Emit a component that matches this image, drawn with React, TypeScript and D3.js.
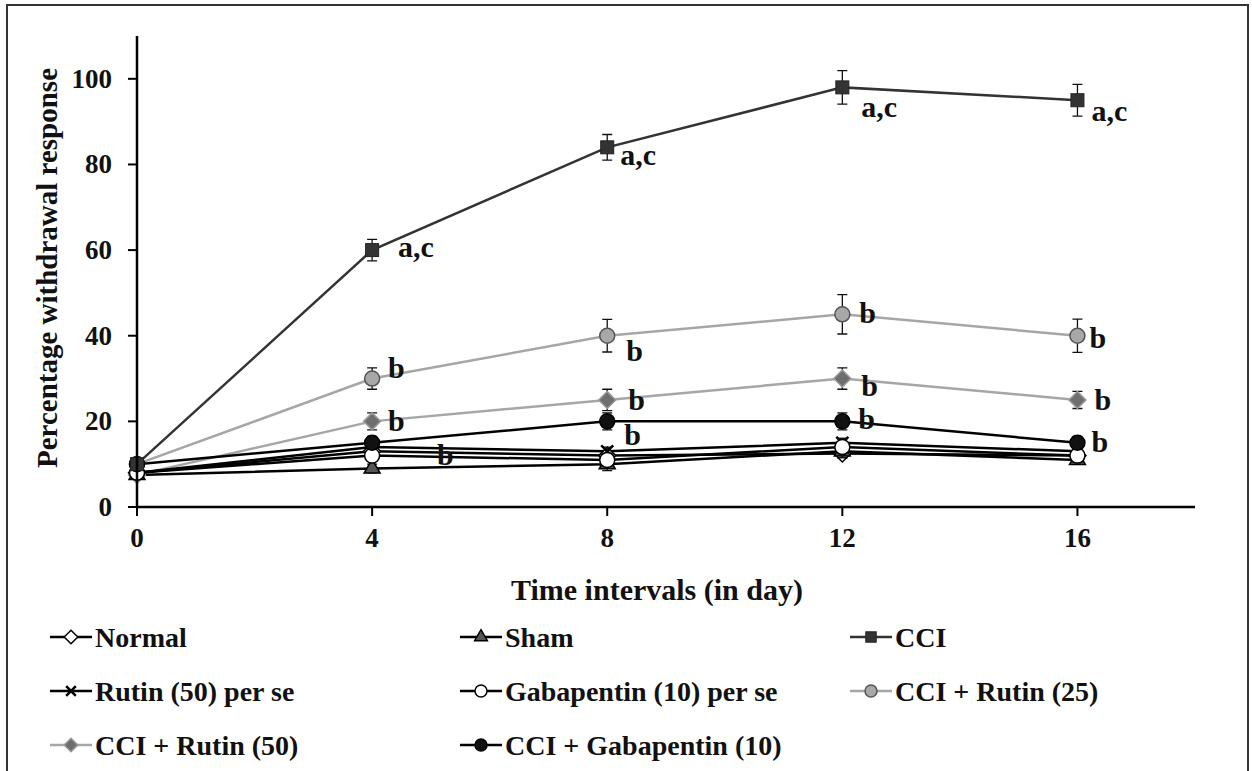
import React, { useEffect, useRef } from 'react';
import * as d3 from 'd3';

const days = [0, 4, 8, 12, 16];
const yTicks = [0, 20, 40, 60, 80, 100];
const xTicks = [0, 4, 8, 12, 16];

const normal = [8, 13, 12, 12.5, 12];
const sham = [7.5, 9, 10, 13, 11];
const cci = [10, 60, 84, 98, 95];
const rutinPerSe = [8, 14, 13, 15, 13];
const gabaPerSe = [8, 12, 11, 14, 12];
const cciRutin25 = [10, 30, 40, 45, 40];
const cciRutin50 = [7.5, 20, 25, 30, 25];
const cciGaba = [10, 15, 20, 20, 15];

const normalErr = [0.8, 1, 1, 1, 1];
const shamErr = [0.8, 1, 1.5, 1.5, 1];
const cciErr = [1, 2.5, 3, 3.9, 3.7];
const rutinPerSeErr = [0.8, 1, 1, 1, 1];
const gabaPerSeErr = [0.8, 1.2, 1.5, 2, 1.5];
const cciRutin25Err = [1, 2.5, 3.8, 4.6, 3.9];
const cciRutin50Err = [1, 2, 2.5, 2.5, 2];
const cciGabaErr = [1, 1.5, 2, 2, 1.5];

const seriesNames = [
  'Normal', 'Sham', 'CCI',
  'Rutin (50) per se', 'Gabapentin (10) per se', 'CCI + Rutin (25)',
  'CCI + Rutin (50)', 'CCI + Gabapentin (10)',
];

// significance labels: series index, point index, text
const annSeries = [2, 2, 2, 2, 5, 5, 5, 5, 6, 6, 6, 6, 7, 7, 7, 7];
const annPoint = [1, 2, 3, 4, 1, 2, 3, 4, 1, 2, 3, 4, 1, 2, 3, 4];
const annText = ['a,c', 'a,c', 'a,c', 'a,c', 'b', 'b', 'b', 'b', 'b', 'b', 'b', 'b', 'b', 'b', 'b', 'b'];
const annDx = [26, 13, 19, 14, 16, 19, 17, 12, 16, 21, 19, 17, 65, 17, 16, 14];
const annDy = [7, 18, 30, 21, -1, 25, 9, 12, 10, 10, 17, 10, 22, 24, 8, 9];

type Style = { line: string; marker: string; fill: string; stroke: string };
const styles: Style[] = [
  { line: '#000', marker: 'diamond', fill: '#fff', stroke: '#000' },
  { line: '#000', marker: 'triangle', fill: '#555', stroke: '#000' },
  { line: '#333', marker: 'square', fill: '#333', stroke: '#222' },
  { line: '#000', marker: 'x', fill: 'none', stroke: '#000' },
  { line: '#000', marker: 'circle', fill: '#fff', stroke: '#000' },
  { line: '#a6a6a6', marker: 'circle', fill: '#a8a8a8', stroke: '#555' },
  { line: '#a6a6a6', marker: 'diamond', fill: '#6e6e6e', stroke: '#999' },
  { line: '#000', marker: 'circle', fill: '#111', stroke: '#000' },
];

const FONT = '"Liberation Serif", "Times New Roman", serif';

const App = () => {
  const svgRef = useRef<SVGSVGElement>(null);

  useEffect(() => {
    const svg = d3.select(svgRef.current);
    svg.selectAll('*').remove();

    const values = [normal, sham, cci, rutinPerSe, gabaPerSe, cciRutin25, cciRutin50, cciGaba];
    const errs = [normalErr, shamErr, cciErr, rutinPerSeErr, gabaPerSeErr, cciRutin25Err, cciRutin50Err, cciGabaErr];

    const x = d3.scaleLinear().domain([0, 18]).range([137, 1195]);
    const y = d3.scaleLinear().domain([0, 110]).range([507, 36]);

    // outer frame
    svg.append('rect')
      .attr('x', 7).attr('y', 5).attr('width', 1241).attr('height', 780)
      .attr('fill', 'white').attr('stroke', '#333').attr('stroke-width', 2);

    const drawMarker = (g: any, kind: string, cx: number, cy: number, st: Style, k = 1) => {
      if (kind === 'circle') {
        g.append('circle').attr('cx', cx).attr('cy', cy).attr('r', 7.5 * k)
          .attr('fill', st.fill).attr('stroke', st.stroke).attr('stroke-width', 1.5);
      } else if (kind === 'x') {
        const s = 6 * k;
        g.append('path').attr('d', `M${cx - s},${cy - s}L${cx + s},${cy + s}M${cx - s},${cy + s}L${cx + s},${cy - s}`)
          .attr('stroke', st.stroke).attr('stroke-width', 2.5);
      } else if (kind === 'diamond') {
        const s = 8.5 * k;
        g.append('path').attr('d', `M${cx},${cy - s}L${cx + s},${cy}L${cx},${cy + s}L${cx - s},${cy}Z`)
          .attr('fill', st.fill).attr('stroke', st.stroke).attr('stroke-width', 1.5);
      } else if (kind === 'square') {
        const s = 6.5 * k;
        g.append('rect').attr('x', cx - s).attr('y', cy - s).attr('width', 2 * s).attr('height', 2 * s)
          .attr('fill', st.fill).attr('stroke', st.stroke).attr('stroke-width', 1);
      } else {
        g.append('path').attr('d', d3.symbol().type(d3.symbolTriangle).size(110 * k * k)())
          .attr('transform', `translate(${cx},${cy})`)
          .attr('fill', st.fill).attr('stroke', st.stroke).attr('stroke-width', 1.5);
      }
    };

    // gray lines behind black ones
    const order = [5, 6, 0, 1, 3, 4, 7, 2];
    const line = d3.line<number>().x((_, i) => x(days[i])).y(d => y(d));
    order.forEach(si => {
      svg.append('path').attr('d', line(values[si]))
        .attr('fill', 'none').attr('stroke', styles[si].line).attr('stroke-width', 2.5);
    });

    // error bars and markers
    order.forEach(si => {
      const g = svg.append('g');
      values[si].forEach((v, i) => {
        const cx = x(days[i]);
        const e = errs[si][i];
        const y1 = y(v + e), y2 = y(v - e);
        g.append('path')
          .attr('d', `M${cx},${y1}V${y2}M${cx - 5},${y1}H${cx + 5}M${cx - 5},${y2}H${cx + 5}`)
          .attr('stroke', '#111').attr('stroke-width', 1.3).attr('fill', 'none');
      });
      values[si].forEach((v, i) => drawMarker(g, styles[si].marker, x(days[i]), y(v), styles[si]));
    });

    // annotations
    annText.forEach((t, k) => {
      const si = annSeries[k];
      const pi = annPoint[k];
      svg.append('text')
        .attr('x', x(days[pi]) + annDx[k])
        .attr('y', y(values[si][pi]) + annDy[k])
        .attr('font-family', FONT).attr('font-weight', 'bold').attr('font-size', 30)
        .attr('fill', '#111').text(t);
    });

    // axes
    const axisG = svg.append('g').attr('font-family', FONT).attr('font-weight', 'bold');
    axisG.append('line').attr('x1', x(0)).attr('x2', x(18)).attr('y1', y(0)).attr('y2', y(0))
      .attr('stroke', '#000').attr('stroke-width', 2.5);
    axisG.append('line').attr('x1', x(0)).attr('x2', x(0)).attr('y1', y(0)).attr('y2', y(110))
      .attr('stroke', '#000').attr('stroke-width', 2.5);
    yTicks.forEach(t => {
      axisG.append('line').attr('x1', x(0) - 9).attr('x2', x(0)).attr('y1', y(t)).attr('y2', y(t))
        .attr('stroke', '#000').attr('stroke-width', 2);
      axisG.append('text').attr('x', 112).attr('y', y(t) + 9).attr('text-anchor', 'end')
        .attr('font-size', 27).attr('fill', '#111').text(t);
    });
    xTicks.forEach(t => {
      axisG.append('line').attr('x1', x(t)).attr('x2', x(t)).attr('y1', y(0)).attr('y2', y(0) + 9)
        .attr('stroke', '#000').attr('stroke-width', 2);
      axisG.append('text').attr('x', x(t)).attr('y', 547).attr('text-anchor', 'middle')
        .attr('font-size', 27).attr('fill', '#111').text(t);
    });
    axisG.append('text').attr('x', 657).attr('y', 600).attr('text-anchor', 'middle')
      .attr('font-size', 30).attr('fill', '#111').text('Time  intervals (in day)');
    axisG.append('text').attr('transform', 'translate(57,268) rotate(-90)').attr('text-anchor', 'middle')
      .attr('font-size', 29).attr('fill', '#111').text('Percentage withdrawal response');

    // legend
    const colX = [50, 460, 850];
    const rowY = [637, 691, 745];
    seriesNames.forEach((name, i) => {
      const lx = colX[i % 3];
      const ly = rowY[Math.floor(i / 3)];
      const g = svg.append('g');
      g.append('line').attr('x1', lx).attr('x2', lx + 42).attr('y1', ly).attr('y2', ly)
        .attr('stroke', styles[i].line).attr('stroke-width', 2.5);
      drawMarker(g, styles[i].marker, lx + 21, ly, styles[i], 0.8);
      g.append('text').attr('x', lx + 45).attr('y', ly + 10)
        .attr('font-family', FONT).attr('font-weight', 'bold').attr('font-size', 28)
        .attr('fill', '#111').text(name);
    });
  }, []);

  return (
    <svg ref={svgRef} width={1252} height={771}
      style={{ position: 'absolute', left: 0, top: 0, background: 'white' }} />
  );
};

export default App;
